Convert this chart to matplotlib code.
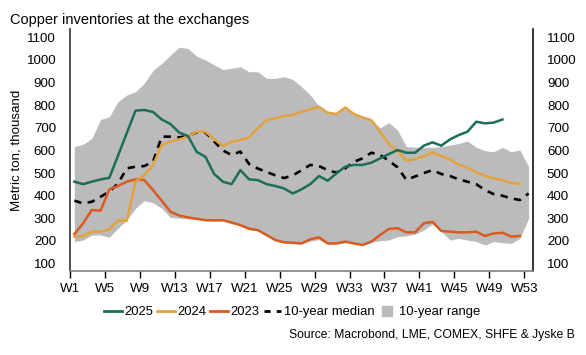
import matplotlib
matplotlib.use('Agg')
import matplotlib.pyplot as plt
from matplotlib.lines import Line2D
import numpy as np

plt.rcParams['font.family'] = ['Liberation Sans', 'DejaVu Sans']

# --- DATA (thousand tonnes, weekly) ---
range_hi = [617, 627, 653, 737, 749, 816, 845, 860, 897, 953, 985, 1022, 1056, 1051,
            1017, 1000, 978, 958, 963, 970, 948, 948, 919, 919, 926, 914, 882, 845,
            796, 770, 765, 792, 765, 750, 737, 700, 723, 690, 617, 614, 614, 614,
            617, 624, 631, 642, 614, 599, 594, 614, 594, 602, 528]
range_lo = [197, 204, 226, 226, 216, 256, 292, 344, 378, 369, 344, 304, 300, 298,
            294, 289, 288, 288, 278, 266, 250, 244, 222, 200, 190, 188, 186, 200,
            205, 186, 186, 192, 186, 180, 195, 201, 204, 219, 222, 230, 248, 275,
            241, 204, 211, 204, 197, 182, 197, 192, 189, 211, 300]
median = [378, 366, 373, 395, 418, 454, 521, 528, 531, 550, 661, 661, 658, 664,
          680, 680, 640, 600, 580, 595, 540, 520, 505, 490, 478, 490, 512, 536,
          531, 513, 502, 521, 550, 565, 590, 580, 555, 525, 470, 485, 500, 513,
          496, 487, 472, 462, 451, 425, 407, 400, 388, 381, 410]
y2025 = [462, 451, 462, 472, 479, 577, 677, 776, 779, 770, 737, 717, 679, 664,
         594, 572, 496, 462, 451, 513, 472, 469, 451, 443, 432, 410, 428, 451,
         487, 466, 499, 528, 536, 536, 546, 565, 584, 602, 590, 590, 621, 636,
         621, 649, 668, 683, 727, 720, 723, 737]
y2024 = [219, 222, 241, 241, 251, 292, 289, 462, 491, 535, 624, 639, 649, 661,
         683, 683, 649, 620, 639, 646, 658, 698, 734, 742, 752, 757, 771, 782,
         793, 767, 761, 790, 761, 746, 734, 683, 628, 599, 555, 561, 575, 590,
         575, 561, 536, 525, 502, 488, 477, 469, 457, 451]
y2023 = [230, 278, 337, 334, 428, 443, 462, 472, 469, 425, 378, 329, 312, 304,
         298, 292, 291, 292, 281, 270, 254, 248, 226, 204, 194, 192, 189, 207,
         216, 189, 189, 197, 189, 182, 197, 226, 253, 256, 238, 238, 278, 284,
         244, 241, 238, 238, 241, 222, 233, 236, 219, 222]
week_labels = ['W1', 'W5', 'W9', 'W13', 'W17', 'W21', 'W25', 'W29', 'W33',
               'W37', 'W41', 'W45', 'W49', 'W53']
y_ticks = [100, 200, 300, 400, 500, 600, 700, 800, 900, 1000, 1100]

# colours
C_2025 = '#1b6e5a'
C_2024 = '#e4a23e'
C_2023 = '#d95b1f'
C_RANGE = '#bbbbbb'

def xs(n):
    # weekly categories, point sits in the middle of its week
    return np.arange(n) + 0.5

fig = plt.figure(figsize=(5.86, 3.55), dpi=100)
ax = fig.add_axes([70/586, 1 - 271/355, 463/586, 242/355])

ax.fill_between(xs(len(range_hi)), range_lo, range_hi, color=C_RANGE, lw=0, zorder=1)
ax.plot(xs(len(median)), median, color='black', lw=1.9, dashes=(2.8, 2.4), zorder=2)
ax.plot(xs(len(y2023)), y2023, color=C_2023, lw=1.8, zorder=3)
ax.plot(xs(len(y2024)), y2024, color=C_2024, lw=1.8, zorder=4)
ax.plot(xs(len(y2025)), y2025, color=C_2025, lw=1.8, zorder=5)

ax.set_xlim(0, 53)
ax.set_ylim(67, 1137)
ax.set_xticks(np.arange(0, 53, 4))
ax.set_xticklabels(week_labels)
ax.set_yticks(y_ticks)
ax.set_yticklabels([str(v) for v in y_ticks])
ax.tick_params(axis='y', length=0, pad=10, labelsize=9.6, left=True, right=True,
               labelleft=True, labelright=True)
ax.tick_params(axis='x', length=5, width=1, pad=4, labelsize=9.6, color='black')

ax.spines['top'].set_visible(False)
ax.spines['left'].set_color('#333333')
ax.spines['right'].set_color('#111111')
ax.spines['bottom'].set_color('#808080')
for s in ['left', 'right', 'bottom']:
    ax.spines[s].set_linewidth(1.2)

ax.set_ylabel('Metric ton, thousand', fontsize=9.6)
ax.yaxis.set_label_coords((23 - 70) / 463, 0.5)

fig.text(10/586, 1 - 24/355, 'Copper inventories at the exchanges', fontsize=10.5,
         ha='left', va='baseline')
fig.text(575/586, 1 - 338/355, 'Source: Macrobond, LME, COMEX, SHFE & Jyske B',
         fontsize=8.7, ha='right', va='baseline')

handles = [
    Line2D([], [], color=C_2025, lw=2),
    Line2D([], [], color=C_2024, lw=2),
    Line2D([], [], color=C_2023, lw=2),
    Line2D([], [], color='black', lw=2, dashes=(2.2, 2.2)),
    Line2D([], [], color=C_RANGE, lw=0, marker='s', markersize=6.5),
]
labels = ['2025', '2024', '2023', '10-year median', '10-year range']
fig.legend(handles, labels, loc='center', bbox_to_anchor=(292/586, 1 - 312/355),
           ncol=5, frameon=False, fontsize=9.4, handlelength=1.35, handletextpad=0.2,
           columnspacing=0.3, borderpad=0, borderaxespad=0)

fig.savefig('out.png', dpi=100)
